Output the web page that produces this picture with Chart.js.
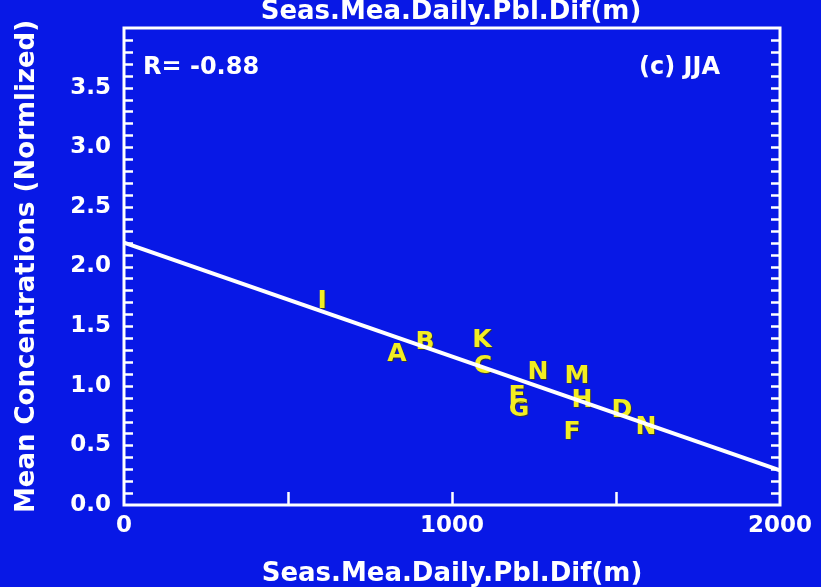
<!DOCTYPE html>
<html>
<head>
<meta charset="utf-8">
<script src="https://cdn.jsdelivr.net/npm/chart.js@4"></script>
<style>
  html, body { margin: 0; padding: 0; background: #0818e6; }
  #wrap { width: 821px; height: 587px; position: relative; }
</style>
</head>
<body>
<div id="wrap"><canvas id="pblChart"></canvas></div>
<script>
// station letters and their values (JJA)
const stationLetters = ['I', 'A', 'B', 'K', 'C', 'N', 'M', 'H', 'E', 'G', 'F', 'D', 'N'];
const pblDiff = [604, 832, 918, 1091, 1094, 1262, 1381, 1396, 1198, 1204, 1366, 1518, 1591];
const meanConc = [1.71, 1.26, 1.36, 1.38, 1.16, 1.11, 1.08, 0.88, 0.91, 0.80, 0.61, 0.79, 0.65];

// regression line end points
const fitX = [0, 2000];
const fitY = [2.20, 0.29];

const yTickLabels = ['0.0', '0.5', '1.0', '1.5', '2.0', '2.5', '3.0', '3.5'];
const xTickLabels = ['0', '1000', '2000'];

const bgBlue = '#0818e6';
const letterYellow = '#f2ee22';
const fontBold = "'DejaVu Sans', sans-serif";

// draws the box, inward ticks, letters and the texts IDL-style
const idlPlot = {
  id: 'idlPlot',
  beforeDraw(chart) {
    const ctx = chart.ctx;
    ctx.save();
    ctx.fillStyle = bgBlue;
    ctx.fillRect(0, 0, chart.width, chart.height);
    ctx.restore();
  },
  beforeDatasetsDraw(chart) {
    const ctx = chart.ctx;
    const meta = chart.getDatasetMeta(0);
    ctx.save();
    ctx.font = `bold 25px ${fontBold}`;
    ctx.textAlign = 'center';
    ctx.textBaseline = 'middle';
    meta.data.forEach((pt, i) => {
      ctx.fillStyle = 'rgba(60,60,20,0.8)';
      ctx.fillText(stationLetters[i], pt.x + 1, pt.y + 1);
      ctx.fillStyle = letterYellow;
      ctx.fillText(stationLetters[i], pt.x, pt.y);
    });
    ctx.restore();
  },
  afterDraw(chart) {
    const ctx = chart.ctx;
    const { left, right, top, bottom } = chart.chartArea;
    const x = chart.scales.x, y = chart.scales.y;
    ctx.save();
    ctx.strokeStyle = '#ffffff';
    ctx.lineWidth = 3;
    ctx.strokeRect(left, top, right - left, bottom - top);

    // minor ticks every 0.1 on both sides
    ctx.lineWidth = 2.5;
    ctx.beginPath();
    for (let k = 1; k < 40; k++) {
      const py = Math.round(y.getPixelForValue(k / 10)) + 0.5;
      ctx.moveTo(left, py); ctx.lineTo(left + 9, py);
      ctx.moveTo(right, py); ctx.lineTo(right - 9, py);
    }
    [500, 1000, 1500].forEach(v => {
      const px = Math.round(x.getPixelForValue(v)) + 0.5;
      ctx.moveTo(px, bottom); ctx.lineTo(px, bottom - 13);
    });
    ctx.stroke();

    ctx.fillStyle = '#ffffff';
    ctx.font = `bold 24px ${fontBold}`;
    ctx.textBaseline = 'middle';
    ctx.textAlign = 'left';
    ctx.fillText('R= -0.88', left + 19, 68);
    ctx.textAlign = 'right';
    ctx.fillText('(c) JJA', 720, 68);

    // top title, cut by the page edge
    ctx.font = `bold 26px ${fontBold}`;
    ctx.textAlign = 'center';
    ctx.textBaseline = 'alphabetic';
    ctx.fillText('Seas.Mea.Daily.Pbl.Dif(m)', 451, 19);
    ctx.restore();
  }
};

new Chart(document.getElementById('pblChart'), {
  data: {
    datasets: [{
      type: 'scatter',
      data: pblDiff.map((v, i) => ({ x: v, y: meanConc[i] })),
      pointRadius: 0,
      pointHoverRadius: 0
    }, {
      type: 'line',
      data: fitX.map((v, i) => ({ x: v, y: fitY[i] })),
      borderColor: '#ffffff',
      borderWidth: 4,
      pointRadius: 0,
      tension: 0
    }]
  },
  plugins: [idlPlot],
  options: {
    responsive: true,
    maintainAspectRatio: false,
    animation: false,
    layout: { padding: { top: 28, right: 0, left: 0, bottom: 0 } },
    plugins: {
      legend: { display: false },
      tooltip: { enabled: false }
    },
    scales: {
      x: {
        type: 'linear',
        min: 0,
        max: 2000,
        afterFit: (s) => { s.height = 82; },
        afterBuildTicks: (s) => { s.ticks = xTickLabels.map(t => ({ value: Number(t) })); },
        grid: { display: false, drawTicks: false },
        border: { display: false },
        ticks: {
          color: '#ffffff',
          padding: 7,
          maxRotation: 0,
          font: { family: fontBold, weight: 'bold', size: 23 },
          callback: (v) => String(v)
        },
        title: {
          display: true,
          text: 'Seas.Mea.Daily.Pbl.Dif(m)',
          color: '#ffffff',
          padding: { top: 4, bottom: -3 },
          font: { family: fontBold, weight: 'bold', size: 26 }
        }
      },
      y: {
        type: 'linear',
        min: 0,
        max: 4,
        afterFit: (s) => { s.width = 124; },
        afterBuildTicks: (s) => { s.ticks = yTickLabels.map(t => ({ value: Number(t) })); },
        grid: { display: false, drawTicks: false },
        border: { display: false },
        ticks: {
          color: '#ffffff',
          padding: 13,
          font: { family: fontBold, weight: 'bold', size: 23 },
          callback: (v) => yTickLabels.find(t => Number(t) === v)
        },
        title: {
          display: true,
          text: 'Mean Concentrations (Normlized)',
          color: '#ffffff',
          padding: { top: 12, bottom: 4 },
          font: { family: fontBold, weight: 'bold', size: 26 }
        }
      },
      yRight: {
        type: 'linear',
        position: 'right',
        min: 0,
        max: 4,
        afterFit: (s) => { s.width = 41; },
        grid: { display: false, drawTicks: false },
        border: { display: false },
        ticks: { display: false }
      }
    }
  }
});
</script>
</body>
</html>
